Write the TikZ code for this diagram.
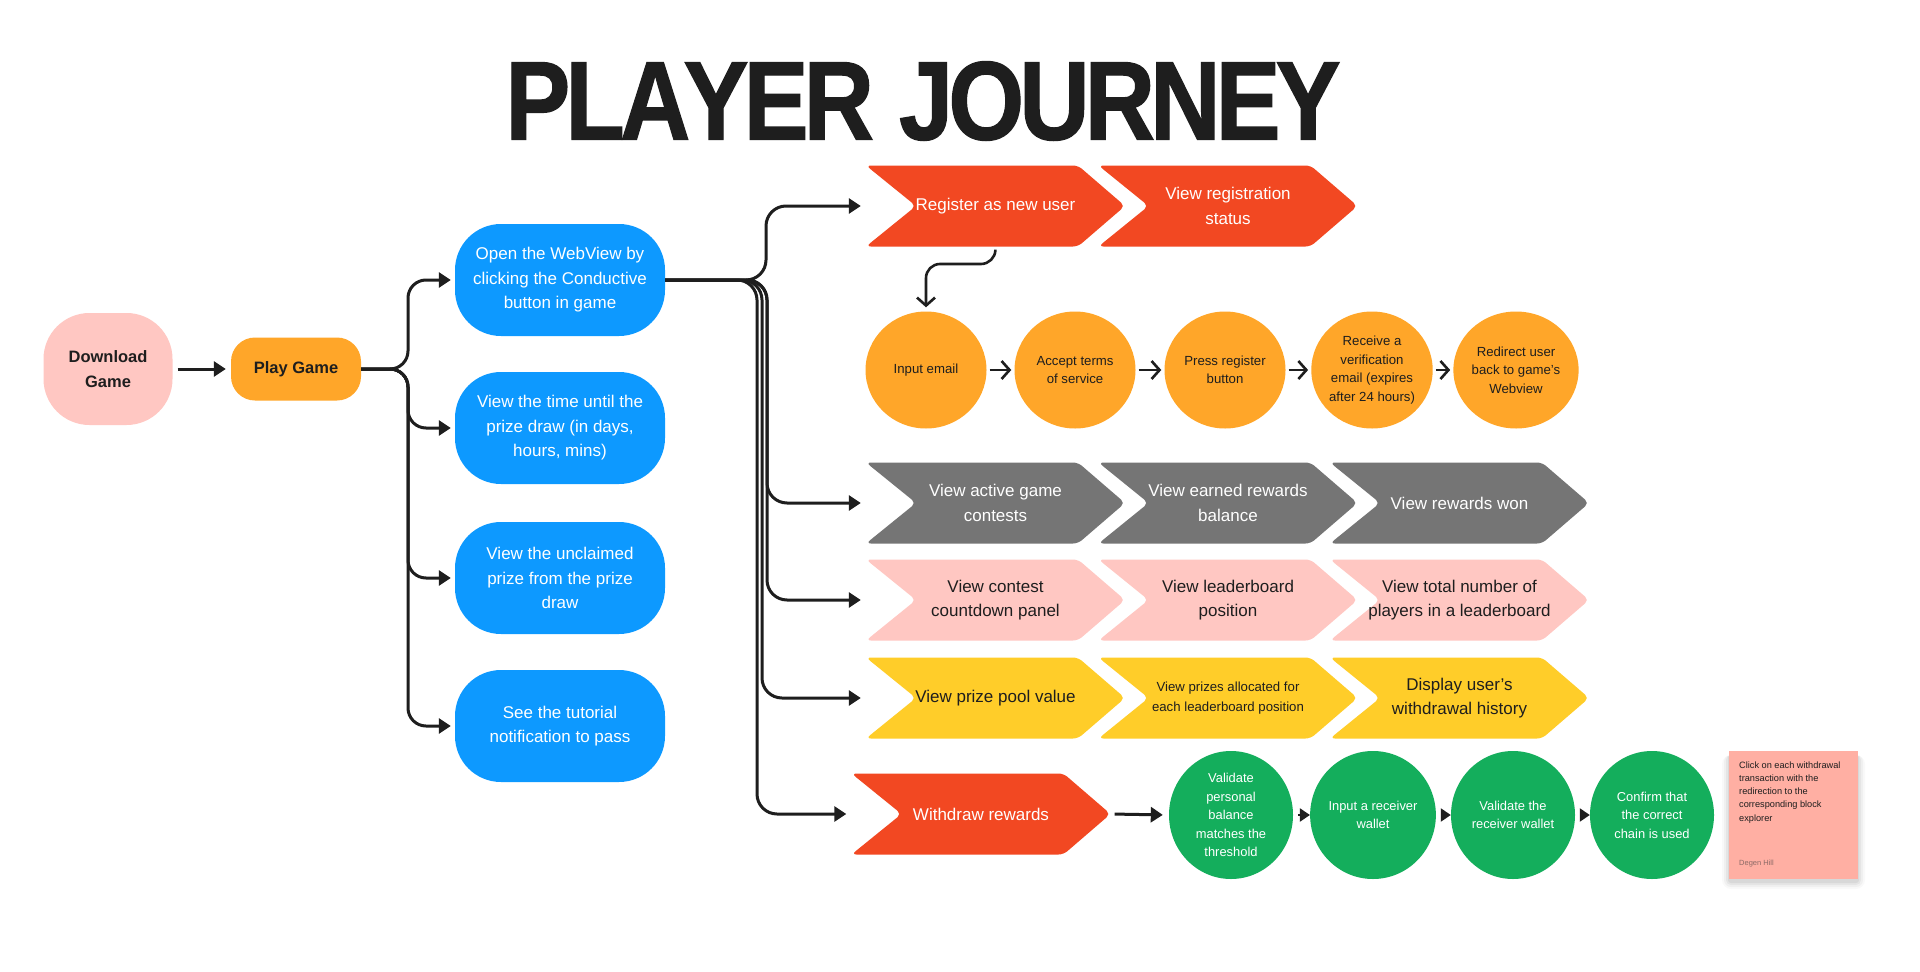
\documentclass[tikz,border=0pt]{standalone}
\usepackage{fontspec}
\setmainfont{Liberation Sans}
\newfontfamily\titlefont[BoldFeatures={FakeBold=1.2}]{Liberation Sans}
\usetikzlibrary{arrows.meta,shapes.geometric}
\definecolor{cred}{HTML}{F24822}
\definecolor{cgray}{HTML}{757575}
\definecolor{cpink}{HTML}{FFC7C2}
\definecolor{cyel}{HTML}{FFCD29}
\definecolor{corange}{HTML}{FFA629}
\definecolor{cgreen}{HTML}{14AE5C}
\definecolor{cblue}{HTML}{0D99FF}
\definecolor{csticky}{HTML}{FFAFA3}
\definecolor{cdark}{HTML}{1E1E1E}
\definecolor{cnote}{HTML}{8C6A66}
\newcommand\mkchev[6]{%
  \fill[#4, rounded corners=5] ({#2-129.5},{#3-40.5}) -- ({#2+82.5},{#3-40.5}) -- ({#2+129.5},#3) -- ({#2+82.5},{#3+40.5}) -- ({#2-129.5},{#3+40.5}) -- ({#2-79.5},#3) -- cycle;
  \node[chev, #5] (#1) at (#2,#3) {#6};}
\begin{document}
\begin{tikzpicture}[x=1pt,y=-1pt,
  conn/.style={line width=3pt, draw=cdark, rounded corners=20},
  arr/.style={conn, -{Triangle[length=12pt,width=15pt]}},
  barb/.style={line width=2.6pt, draw=cdark, -{Straight Barb[length=8pt,width=18pt]}},
  smallarr/.style={line width=2pt, draw=cdark, -{Triangle[length=10pt,width=13pt]}},
  chev/.style={minimum width=259, minimum height=81, inner sep=0, align=center, font=\fontsize{17}{24.5}\selectfont},
  bluebox/.style={fill=cblue, text=white, rounded corners=46, minimum width=210, minimum height=112, align=center, inner sep=0, font=\fontsize{17}{24.5}\selectfont},
  orangec/.style={ellipse, fill=corange, text=cdark, minimum width=121, minimum height=117, inner sep=0, align=center, font=\fontsize{13.2}{18.4}\selectfont},
  greenc/.style={ellipse, fill=cgreen, text=white, minimum width=124, minimum height=128, inner sep=0, align=center, font=\fontsize{12.9}{18.4}\selectfont},
  sticky/.style={fill=csticky, minimum width=129, minimum height=128, inner sep=0}
]
\fill[white] (0,0) rectangle (1920,972);
\useasboundingbox (0,0) rectangle (1920,972);

% title
\node[text=cdark, inner sep=0] (title) at (923,101) {\resizebox{835pt}{78pt}{\titlefont\bfseries P\kern-.05em L\kern-.05em A\kern-.07em Y\kern-.05em E\kern-.05em R\kern-.02em\ J\kern-.05em O\kern-.05em U\kern-.05em R\kern-.05em N\kern-.05em E\kern-.05em Y}};

% left column
\node[fill=cpink, text=cdark, rounded corners=46, minimum width=129, minimum height=112, inner sep=0, align=center, font=\bfseries\fontsize{16.5}{24.5}\selectfont] (dl) at (108,369) {Download\\Game};
\node[fill=corange, text=cdark, rounded corners=24, minimum width=130, minimum height=63, inner sep=0, font=\bfseries\fontsize{16.5}{24.5}\selectfont] (pg) at (296,369) {Play Game};

\node[bluebox] (b1) at (560,280) {Open the WebView by\\clicking the Conductive\\button in game};
\node[bluebox] (b2) at (560,428) {View the time until the\\prize draw (in days,\\hours, mins)};
\node[bluebox] (b3) at (560,578) {View the unclaimed\\prize from the prize\\draw};
\node[bluebox] (b4) at (560,726) {See the tutorial\\notification to pass};

% chevrons
\mkchev{reg}{995.5}{206}{cred}{text=white}{Register as new user}
\mkchev{regst}{1228}{206}{cred}{text=white}{View registration\\status}
\mkchev{g1}{995.5}{503}{cgray}{text=white}{View active game\\contests}
\mkchev{g2}{1228}{503}{cgray}{text=white}{View earned rewards\\balance}
\mkchev{g3}{1459.5}{503}{cgray}{text=white}{View rewards won}
\mkchev{p1}{995.5}{600}{cpink}{text=cdark}{View contest\\countdown panel}
\mkchev{p2}{1228}{600}{cpink}{text=cdark}{View leaderboard\\position}
\mkchev{p3}{1459.5}{600}{cpink}{text=cdark}{View total number of\\players in a leaderboard}
\mkchev{y1}{995.5}{698}{cyel}{text=cdark}{View prize pool value}
\mkchev{y2}{1228}{698}{cyel}{text=cdark, font=\fontsize{13.2}{20.5}\selectfont}{View prizes allocated for\\each leaderboard position}
\mkchev{y3}{1459.5}{698}{cyel}{text=cdark}{Display user’s\\withdrawal history}
\mkchev{wd}{981}{814}{cred}{text=white}{Withdraw rewards}

% orange circles
\node[orangec] (o1) at (926,370) {Input email};
\node[orangec] (o2) at (1075,370) {Accept terms\\of service};
\node[orangec] (o3) at (1225,370) {Press register\\button};
\node[orangec] (o4) at (1372,370) {Receive a\\verification\\email (expires\\after 24 hours)};
\node[orangec] (o5) at (1516,370) {Redirect user\\back to game’s\\Webview};

% green circles
\node[greenc] (gr1) at (1231,815) {Validate\\personal\\balance\\matches the\\threshold};
\node[greenc] (gr2) at (1373,815) {Input a receiver\\wallet};
\node[greenc] (gr3) at (1513,815) {Validate the\\receiver wallet};
\node[greenc] (gr4) at (1652,815) {Confirm that\\the correct\\chain is used};

% sticky note with soft shadow
\foreach \s/\o in {9/0.025,7/0.035,5/0.045,3/0.055}
  \fill[black, opacity=\o, rounded corners=\s] ({1729-\s+2},{751+4}) rectangle ({1858+\s-2},{879+\s+1});
\node[sticky] (note) at (1793.5,815) {};
\node[anchor=north west, inner sep=0, align=left, text=cdark, font=\fontsize{9.2}{13.2}\selectfont] (notetxt) at (1739,761.5) {Click on each withdrawal\\transaction with the\\redirection to the\\corresponding block\\explorer};
\node[anchor=base west, inner sep=0, text=cnote, font=\fontsize{7.5}{9}\selectfont] (noteauth) at (1739,865) {Degen Hill};

% connectors
\draw[arr, shorten <=5pt, shorten >=5pt] (dl.east) -- (pg.west);
\foreach \b in {b1,b2,b3,b4}
  \draw[arr, rounded corners=18, shorten >=4pt] (pg.east) -- (408,369) -- (408,369 |- \b.west) -- (\b.west);

\draw[arr, shorten >=5pt] (b1.east) -- (766,280) -- (766,280 |- reg.west) -- (reg.west);
\draw[arr, shorten >=5pt] (b1.east) -- (767,280) -- (767,280 |- g1.west) -- (g1.west);
\draw[arr, shorten >=5pt] (b1.east) -- (767,280) -- (767,280 |- p1.west) -- (p1.west);
\draw[arr, shorten >=5pt] (b1.east) -- (762,280) -- (762,280 |- y1.west) -- (y1.west);
\draw[arr, shorten >=5pt] (b1.east) -- (757,280) -- (757,280 |- wd.west) -- (wd.west);

\draw[barb, rounded corners=14, shorten <=3pt, shorten >=4pt] (reg.south) -- (995,264) -- (926,264) -- (o1.north);
\draw[barb, shorten <=3pt, shorten >=3pt] (o1.east) -- (o2.west);
\draw[barb, shorten <=3pt, shorten >=3pt] (o2.east) -- (o3.west);
\draw[barb, shorten <=3pt, shorten >=3pt] (o3.east) -- (o4.west);
\draw[barb, shorten <=3pt, shorten >=3pt] (o4.east) -- (o5.west);

\draw[arr, shorten <=4pt, shorten >=6pt] (wd.east) -- (gr1.west);
\draw[smallarr, shorten <=5pt] (gr1.east) -- (gr2.west);
\draw[smallarr, shorten <=5pt] (gr2.east) -- (gr3.west);
\draw[smallarr, shorten <=5pt] (gr3.east) -- (gr4.west);
\end{tikzpicture}
\end{document}
